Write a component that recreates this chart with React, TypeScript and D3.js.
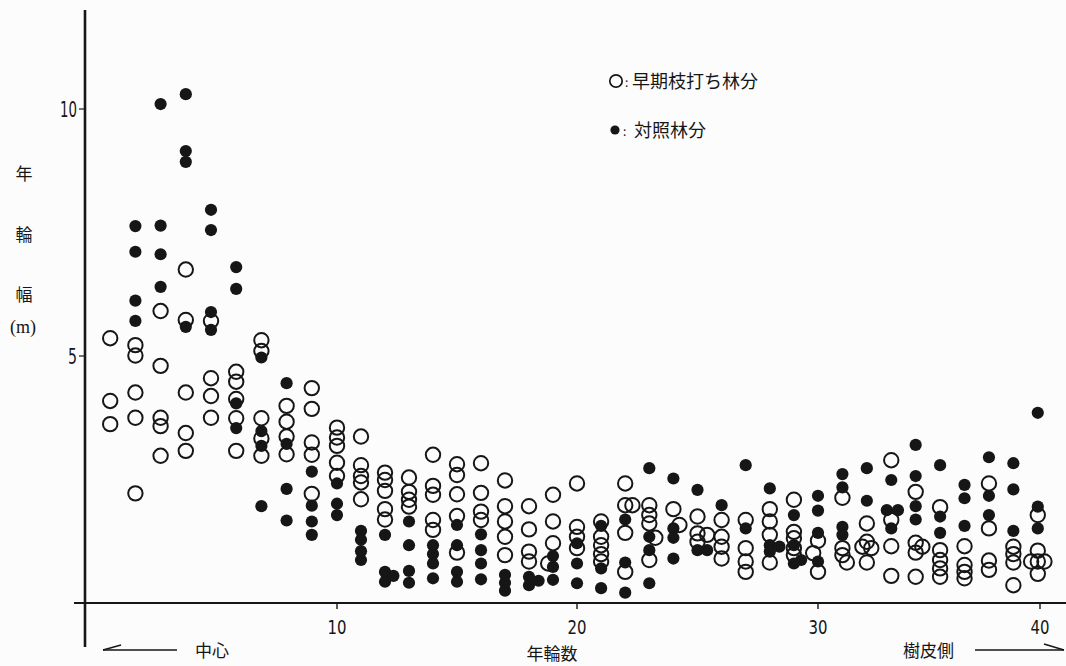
import React from "react";
import * as d3 from "d3";

// 早期枝打ち林分 (open circles): [年輪数, 年輪幅]
const earlyPruned: [number, number][] = [
  [1, 5.36], [1, 4.09], [1, 3.62],
  [2, 5.22], [2, 5.01], [2, 4.26], [2, 3.75], [2, 2.22],
  [3, 5.91], [3, 4.8], [3, 3.75], [3, 3.58], [3, 2.98],
  [4, 6.75], [4, 5.73], [4, 4.26], [4, 3.44], [4, 3.08],
  [5, 5.71], [5, 4.55], [5, 4.19], [5, 3.75],
  [6, 4.68], [6, 4.48], [6, 4.13], [6, 3.74], [6, 3.08],
  [7, 5.32], [7, 5.1], [7, 3.74], [7, 3.33], [7, 2.98],
  [8, 3.99], [8, 3.67], [8, 3.37], [8, 3.01],
  [9, 4.35], [9, 3.93], [9, 3.25], [9, 3.0], [9, 2.21],
  [10, 3.55], [10, 3.35], [10, 3.18], [10, 2.84], [10, 2.57],
  [11, 3.37], [11, 2.79], [11, 2.57], [11, 2.44], [11, 2.1],
  [12, 2.64], [12, 2.49], [12, 2.27], [12, 1.9], [12, 1.69],
  [13, 2.54], [13, 2.25], [13, 2.09], [13, 1.95],
  [14, 3.0], [14, 2.37], [14, 2.19], [14, 1.68], [14, 1.48],
  [15, 2.81], [15, 2.59], [15, 2.2], [15, 1.76], [15, 1.02],
  [16, 2.83], [16, 2.23], [16, 1.85], [16, 1.68],
  [17, 2.48], [17, 1.96], [17, 1.65], [17, 1.34], [17, 0.97],
  [18, 1.96], [18, 1.49], [18, 1.04], [18, 0.84],
  [19, 2.19], [19, 1.65], [19, 1.21], [18.8, 0.8],
  [20, 2.42], [20, 1.54], [20, 1.34], [20, 1.11],
  [21, 1.65], [21, 1.34], [21, 1.17], [21, 0.99], [21, 0.84],
  [22, 2.42], [22, 1.98], [22.3, 1.98], [22, 1.42], [22, 0.63],
  [23, 1.98], [23, 1.78], [23, 1.61], [23.25, 1.32], [23, 0.87],
  [24, 1.9], [24.25, 1.58],
  [25, 1.75], [25, 1.41], [25, 1.24], [25.4, 1.38],
  [26, 1.68], [26, 1.34], [26, 1.14], [26, 0.9],
  [27, 1.68], [27, 1.11], [27, 0.84], [27, 0.63],
  [28, 1.9], [28, 1.65], [28, 1.38], [28, 0.82],
  [29, 2.09], [29, 1.44], [29, 1.31], [29, 1.11], [29, 0.97],
  [30, 1.26], [29.8, 1.01], [30, 0.63],
  [31.1, 2.13], [31.1, 1.11], [31.1, 0.97], [31.3, 0.82],
  [32.2, 1.61], [32.2, 1.24], [32.2, 0.82], [32.4, 1.11], [32.0, 1.14],
  [33.3, 2.89], [33.3, 1.68], [33.3, 1.15], [33.3, 0.55],
  [34.4, 2.25], [34.4, 1.22], [34.4, 1.02], [34.7, 1.14], [34.4, 0.53],
  [35.5, 1.94], [35.5, 1.07], [35.5, 0.87], [35.5, 0.7], [35.5, 0.53],
  [36.6, 1.15], [36.6, 0.77], [36.6, 0.63], [36.6, 0.5],
  [37.7, 2.42], [37.7, 1.51], [37.7, 0.86], [37.7, 0.67],
  [38.8, 1.14], [38.8, 0.99], [38.8, 0.82], [38.8, 0.36],
  [39.9, 1.78], [39.9, 1.06], [39.9, 0.84], [39.9, 0.59], [39.6, 0.84], [40.2, 0.84],
];

// 対照林分 (filled dots): [年輪数, 年輪幅]
const control: [number, number][] = [
  [2, 7.63], [2, 7.11], [2, 6.12], [2, 5.71],
  [3, 10.1], [3, 7.64], [3, 7.06], [3, 6.4],
  [4, 10.3], [4, 9.15], [4, 8.93], [4, 5.59],
  [5, 7.96], [5, 7.55], [5, 5.89], [5, 5.53],
  [6, 6.8], [6, 6.36], [6, 4.04], [6, 3.54],
  [7, 4.97], [7, 3.48], [7, 3.18], [7, 1.96],
  [8, 4.45], [8, 3.22], [8, 2.31], [8, 1.67],
  [9, 2.66], [9, 1.97], [9, 1.65], [9, 1.38],
  [10, 2.42], [10, 2.01], [10, 1.78],
  [11, 1.46], [11, 1.28], [11, 1.05], [11, 0.87],
  [12, 1.38], [12, 0.63], [12.35, 0.55], [12, 0.43],
  [13, 1.65], [13, 1.17], [13, 0.65], [13, 0.41],
  [14, 1.17], [14, 0.99], [14, 0.8], [14, 0.5],
  [15, 1.58], [15, 1.17], [15, 0.63], [15, 0.43],
  [16, 1.39], [16, 1.07], [16, 0.8], [16, 0.48],
  [17, 0.57], [17, 0.41], [17, 0.25],
  [18, 0.53], [18, 0.36], [18.4, 0.45],
  [19, 0.95], [19, 0.73], [19, 0.47],
  [20, 1.21], [20, 0.8], [20, 0.4],
  [21, 1.56], [21, 0.7], [21, 0.3],
  [22, 1.69], [22, 0.82], [22, 0.21],
  [23, 2.73], [23, 1.34], [23, 1.07], [23, 0.4],
  [24, 2.52], [24, 1.51], [24, 1.32], [24, 0.9],
  [25, 2.29], [25, 1.07], [25.4, 1.07],
  [26, 1.98],
  [27, 2.79], [27, 1.51],
  [28, 2.32], [28, 1.17], [28, 1.04], [28.4, 1.14],
  [29, 1.78], [29, 1.17], [29, 0.8], [29.3, 0.87],
  [30, 2.17], [30, 1.87], [30, 1.42], [30, 0.84],
  [31.1, 2.61], [31.1, 2.34], [31.1, 1.54], [31.1, 1.38],
  [32.2, 2.73], [32.2, 2.07],
  [33.3, 2.49], [33.1, 1.88], [33.6, 1.88], [33.3, 1.51],
  [34.4, 3.2], [34.4, 2.57], [34.4, 1.96], [34.4, 1.69],
  [35.5, 2.79], [35.5, 1.75], [35.5, 1.42],
  [36.6, 2.39], [36.6, 2.12], [36.6, 1.56],
  [37.7, 2.95], [37.7, 2.17], [37.7, 1.78],
  [38.8, 2.83], [38.8, 2.3], [38.8, 1.46],
  [39.9, 3.85], [39.9, 1.95], [39.9, 1.51],
];

const xTicks = [10, 20, 30, 40];
const yTicks = [5, 10];
const xTitle = "年輪数";
const yTitleChars = ["年", "輪", "幅"];
const yUnit = "(m)";
const legendOpen = "早期枝打ち林分";
const legendFilled = "対照林分";
const leftNote = "中心";
const rightNote = "樹皮側";

const W = 1066;
const H = 666;
const INK = "#161616";
const CJK = "'Noto Sans CJK JP', 'Noto Sans', sans-serif";
const NUM = "'DejaVu Sans', sans-serif";

export default function App() {
  const x = d3.scaleLinear().domain([0, 10, 20, 30, 40]).range([85, 337, 577, 818, 1040]);
  const y = d3.scaleLinear().domain([0, 10]).range([603, 109]);
  const x0 = x(0);
  const y0 = y(0);

  return (
    <div style={{ position: "fixed", left: 0, top: 0 }}>
      <svg width={W} height={H} viewBox={`0 0 ${W} ${H}`} style={{ display: "block", background: "#fcfcfc" }}>
        <rect x={0} y={0} width={W} height={H} fill="#fcfcfc" />
        {/* axes */}
        <line x1={x0} x2={x0} y1={10} y2={647} stroke={INK} strokeWidth={2.6} />
        <line x1={74} x2={W} y1={y0} y2={y0} stroke={INK} strokeWidth={2.2} />
        {/* y ticks */}
        {yTicks.map((t) => (
          <g key={"y" + t}>
            <line x1={x0 - 6} x2={x0} y1={y(t)} y2={y(t)} stroke={INK} strokeWidth={1.2} />
            <text
              x={77}
              y={y(t) + 8}
              textAnchor="end"
              fontFamily={NUM}
              fontSize={21}
              fill={INK}
              textLength={t >= 10 ? 17 : 9}
              lengthAdjust="spacingAndGlyphs"
            >
              {t}
            </text>
          </g>
        ))}
        {/* x ticks */}
        {xTicks.map((t) => (
          <g key={"x" + t}>
            <line x1={x(t)} x2={x(t)} y1={y0} y2={y0 + 6} stroke={INK} strokeWidth={1.4} />
            <text
              x={x(t)}
              y={634}
              textAnchor="middle"
              fontFamily={NUM}
              fontSize={20}
              fill={INK}
              textLength={19}
              lengthAdjust="spacingAndGlyphs"
            >
              {t}
            </text>
          </g>
        ))}
        {/* y title */}
        {yTitleChars.map((c, i) => (
          <text key={c} x={24} y={[180, 241, 301][i]} textAnchor="middle" fontFamily={CJK} fontSize={17} fill={INK}>
            {c}
          </text>
        ))}
        <text x={23} y={333} textAnchor="middle" fontFamily="'Liberation Serif', serif" fontSize={18} fill={INK}>
          {yUnit}
        </text>
        {/* x title and direction notes */}
        <text x={552} y={660} textAnchor="middle" fontFamily={CJK} fontSize={17} fill={INK}>
          {xTitle}
        </text>
        <line x1={103} x2={177} y1={650} y2={650} stroke={INK} strokeWidth={1.6} />
        <line x1={103} x2={121} y1={650} y2={645} stroke={INK} strokeWidth={1.4} />
        <text x={195} y={657} fontFamily={CJK} fontSize={17} fill={INK}>
          {leftNote}
        </text>
        <text x={903} y={657} fontFamily={CJK} fontSize={17} fill={INK}>
          {rightNote}
        </text>
        <line x1={975} x2={1064} y1={650} y2={650} stroke={INK} strokeWidth={1.6} />
        <line x1={1044} x2={1064} y1={644} y2={650} stroke={INK} strokeWidth={1.4} />
        {/* legend */}
        <circle cx={616} cy={81} r={6.2} fill="none" stroke={INK} strokeWidth={1.7} />
        <text x={625} y={87} fontFamily={CJK} fontSize={12} fill={INK}>:</text>
        <text x={632} y={88} fontFamily={CJK} fontSize={18} fill={INK}>
          {legendOpen}
        </text>
        <circle cx={615} cy={130} r={4.6} fill={INK} />
        <text x={623} y={136} fontFamily={CJK} fontSize={12} fill={INK}>:</text>
        <text x={634} y={137} fontFamily={CJK} fontSize={18} fill={INK}>
          {legendFilled}
        </text>
        {/* marks */}
        <g>
          {earlyPruned.map(([a, b], i) => (
            <circle key={"o" + i} cx={x(a)} cy={y(b)} r={7.2} fill="none" stroke={INK} strokeWidth={2} />
          ))}
        </g>
        <g>
          {control.map(([a, b], i) => (
            <circle key={"f" + i} cx={x(a)} cy={y(b)} r={6.1} fill={INK} />
          ))}
        </g>
      </svg>
    </div>
  );
}
